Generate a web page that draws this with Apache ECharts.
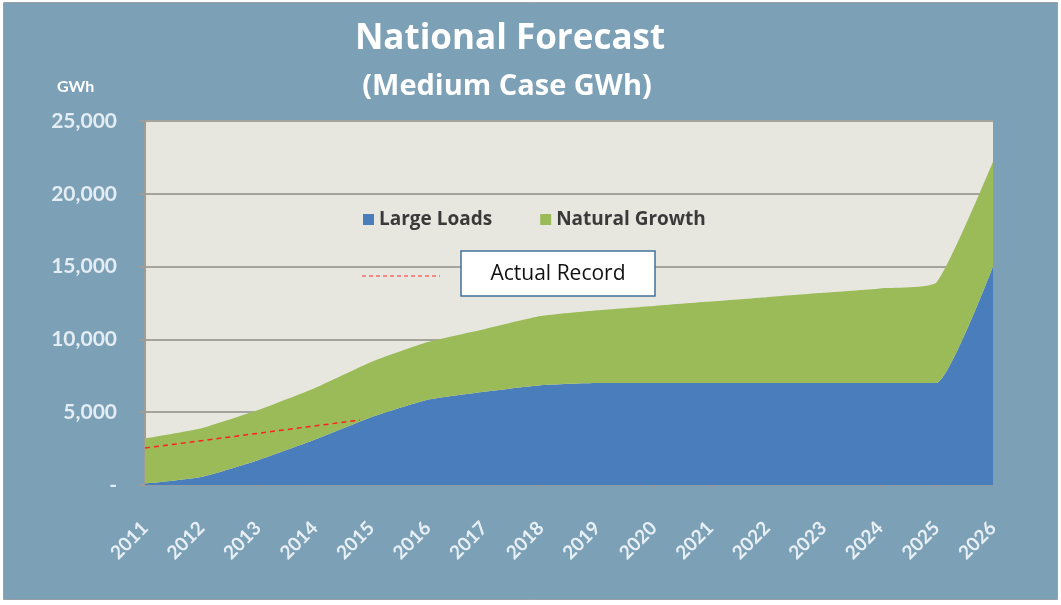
<!DOCTYPE html>
<html>
<head>
<meta charset="utf-8">
<script src="https://cdn.jsdelivr.net/npm/echarts@6/dist/echarts.min.js"></script>
<style>
  html, body { margin: 0; padding: 0; background: #ffffff; }
  #chart { width: 1061px; height: 605px; }
</style>
</head>
<body>
<div id="chart"></div>
<script>
// Forecast years
const years = ['2011','2012','2013','2014','2015','2016','2017','2018','2019','2020','2021','2022','2023','2024','2025','2026'];
// Large Loads (GWh)
const largeLoads = [100, 550, 1700, 3100, 4650, 5850, 6400, 6850, 7000, 7000, 7000, 7000, 7000, 7000, 7000, 15000];
// Natural Growth (GWh), stacked on Large Loads
const naturalGrowth = [3100, 3350, 3450, 3550, 3800, 3970, 4300, 4750, 5000, 5300, 5600, 5900, 6200, 6500, 6900, 7200];
// Actual record trend (year, GWh)
const actualRecord = [[2011, 2540], [2014.8, 4460]];
// Value axis ticks
const yTicks = [0, 5000, 10000, 15000, 20000, 25000];

const labelFont = 'Lato, "Open Sans", sans-serif';
const headFont = '"Open Sans", Lato, sans-serif';

const chart = echarts.init(document.getElementById('chart'), null, { renderer: 'canvas' });

chart.setOption({
  backgroundColor: '#ffffff',
  animation: false,
  title: [
    {
      text: 'National Forecast',
      left: 505, top: 17, textAlign: 'center',
      textStyle: { color: '#ffffff', fontFamily: headFont, fontWeight: 'bold', fontSize: 35 }
    },
    {
      text: '(Medium Case GWh)',
      left: 502, top: 67, textAlign: 'center',
      textStyle: { color: '#ffffff', fontFamily: headFont, fontWeight: 'bold', fontSize: 29 }
    },
    {
      text: 'GWh',
      left: 52, top: 74,
      textStyle: { color: '#ffffff', fontFamily: labelFont, fontWeight: 'bold', fontSize: 16 }
    }
  ],
  legend: {
    left: 358, top: 205,
    itemWidth: 11, itemHeight: 11, itemGap: 48,
    icon: 'rect',
    data: ['Large Loads', 'Natural Growth'],
    textStyle: { color: '#3a3a3a', fontFamily: headFont, fontWeight: 'bold', fontSize: 19 }
  },
  grid: {
    left: 145, right: 68, top: 121, bottom: 120,
    show: true, backgroundColor: '#e8e7df', borderWidth: 0
  },
  xAxis: [
    {
      type: 'category',
      data: years,
      boundaryGap: false,
      axisLine: { lineStyle: { color: '#8e9aa2', width: 1 } },
      axisTick: { show: true, alignWithLabel: true, length: 4, lineStyle: { color: '#8e9aa2' } },
      axisLabel: {
        rotate: 45, margin: 40,
        color: '#e8f0f6', fontFamily: labelFont, fontWeight: 'bold', fontSize: 19
      },
      splitLine: { show: false }
    },
    {
      type: 'value', min: 2011, max: 2026, show: false
    }
  ],
  yAxis: {
    type: 'value',
    min: yTicks[0], max: yTicks[yTicks.length - 1], interval: 5000,
    axisLine: { show: true, lineStyle: { color: '#9e9c98', width: 2 } },
    axisTick: { show: true, length: 6, lineStyle: { color: '#9e9c98', width: 2 } },
    axisLabel: {
      margin: 28,
      color: '#e4edf4', fontFamily: labelFont, fontWeight: 'bold', fontSize: 21,
      formatter: v => v === 0 ? '-' : v.toLocaleString('en-US')
    },
    splitLine: { show: true, lineStyle: { color: '#a6a39e', width: 2 } }
  },
  graphic: [
    {
      type: 'rect', z: -10, silent: true,
      shape: { x: 3.5, y: 2.5, width: 1054, height: 597 },
      style: { fill: '#7ca0b6', stroke: '#9aa0a4', lineWidth: 1 }
    },
    {
      type: 'line', z: 100, silent: true,
      shape: { x1: 362, y1: 276, x2: 440, y2: 276 },
      style: { stroke: '#ff2a2a', lineWidth: 1, lineDash: [4, 3] }
    },
    {
      type: 'rect', z: 100, silent: true,
      shape: { x: 461, y: 251, width: 194, height: 45 },
      style: { fill: '#ffffff', stroke: '#41719c', lineWidth: 1.5 }
    },
    {
      type: 'text', z: 101, silent: true,
      x: 558, y: 274,
      style: {
        text: 'Actual Record', fill: '#111111',
        font: '21px "Open Sans", sans-serif',
        align: 'center', verticalAlign: 'middle'
      }
    }
  ],
  series: [
    {
      name: 'Large Loads', type: 'line', stack: 'total',
      data: largeLoads, smooth: 0.15,
      symbol: 'none', lineStyle: { width: 0 },
      itemStyle: { color: '#4a7dbb' },
      areaStyle: { color: '#4a7dbb', opacity: 1 }
    },
    {
      name: 'Natural Growth', type: 'line', stack: 'total',
      data: naturalGrowth, smooth: 0.15,
      symbol: 'none', lineStyle: { width: 0 },
      itemStyle: { color: '#9bbb59' },
      areaStyle: { color: '#9bbb59', opacity: 1 }
    },
    {
      name: 'Actual Record', type: 'line', xAxisIndex: 1,
      data: actualRecord, symbol: 'none', z: 5,
      lineStyle: { color: '#ff2020', width: 1.5, type: [5, 4] }
    }
  ]
});
</script>
</body>
</html>
